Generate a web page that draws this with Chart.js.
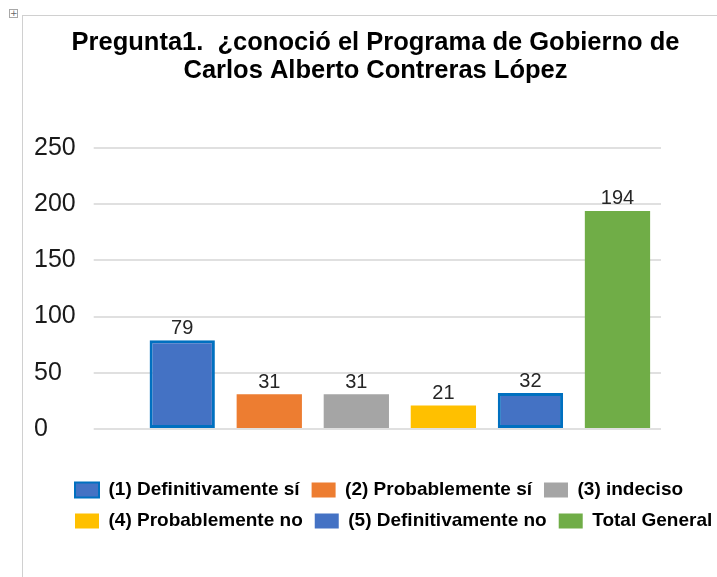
<!DOCTYPE html>
<html>
<head>
<meta charset="utf-8">
<script src="https://cdn.jsdelivr.net/npm/chart.js@4/dist/chart.umd.min.js"></script>
<style>
html,body{margin:0;padding:0;background:#fff;width:717px;height:577px;overflow:hidden;}
#frame{position:absolute;left:22px;top:15px;width:695px;height:562px;border-left:1px solid #d0d0d0;border-top:1px solid #d0d0d0;box-sizing:border-box;}
#handle{position:absolute;left:9px;top:9px;width:9px;height:9px;border:1px solid #a8a8a8;box-sizing:border-box;font:9px/7px "DejaVu Sans";color:#666;text-align:center;}
#wrap{position:absolute;left:34px;top:16px;width:683px;height:561px;}
</style>
</head>
<body>
<div id="frame"></div>
<div id="handle">+</div>
<div id="wrap"><canvas id="c"></canvas></div>
<script>
const titleLines = ['Pregunta1.  ¿conoció el Programa de Gobierno de', 'Carlos Alberto Contreras López'];
const categories = ['(1) Definitivamente sí', '(2) Probablemente sí', '(3) indeciso', '(4) Probablemente no', '(5) Definitivamente no', 'Total General'];
const values = [79, 31, 31, 21, 32, 194];
const yTickValues = [0, 50, 100, 150, 200, 250];
const fillColors = ['#4472C4', '#ED7D31', '#A5A5A5', '#FFC000', '#4472C4', '#70AD47'];
const borderColors = ['#0070C0', '#ED7D31', '#A5A5A5', '#FFC000', '#0070C0', '#70AD47'];
const barBorderWidths = [3, 0, 0, 0, 3, 0];
const legendBorderWidths = [2, 0, 0, 0, 0, 0];

const valueLabels = {
  id: 'valueLabels',
  afterDatasetsDraw(chart) {
    const ctx = chart.ctx;
    const meta = chart.getDatasetMeta(0);
    ctx.save();
    ctx.font = '20px "Liberation Sans", Arial, sans-serif';
    ctx.fillStyle = '#262626';
    ctx.textAlign = 'center';
    ctx.textBaseline = 'bottom';
    meta.data.forEach((bar, i) => {
      ctx.fillText(String(values[i]), bar.x, bar.y - 2);
    });
    ctx.restore();
  }
};

const legendShift = {
  id: 'legendShift',
  afterLayout(chart) {
    if (chart.legend) {
      chart.legend.left += 29;
      chart.legend.right += 29;
    }
  }
};

new Chart(document.getElementById('c'), {
  type: 'bar',
  data: {
    labels: categories,
    datasets: [{
      data: values,
      backgroundColor: fillColors,
      borderColor: borderColors,
      borderWidth: barBorderWidths,
      borderSkipped: false,
      barPercentage: 0.75,
      categoryPercentage: 1.0
    }]
  },
  options: {
    responsive: true,
    maintainAspectRatio: false,
    animation: false,
    layout: { padding: { left: 0, right: 0, top: 0, bottom: 36.5 } },
    plugins: {
      title: {
        display: true,
        text: titleLines,
        color: '#000',
        font: { family: '"Liberation Sans", Arial, sans-serif', size: 25.5, weight: 'bold', lineHeight: 1.098 },
        padding: { top: 13, bottom: 63 }
      },
      legend: {
        display: true,
        position: 'bottom',
        align: 'start',
        labels: {
          boxWidth: 24,
          boxHeight: 15,
          padding: 12,
          color: '#000',
          font: { family: '"Liberation Sans", Arial, sans-serif', size: 19, weight: 'bold' },
          generateLabels: () => categories.map((t, i) => ({
            text: t,
            fillStyle: fillColors[i],
            strokeStyle: borderColors[i],
            lineWidth: legendBorderWidths[i],
            fontColor: '#000',
            hidden: false,
            index: i,
            datasetIndex: 0
          }))
        }
      },
      tooltip: { enabled: false }
    },
    scales: {
      x: {
        display: true,
        grid: { display: false, drawTicks: false },
        border: { display: false },
        ticks: { display: false },
        afterFit(s) { s.height = 39.5; }
      },
      y: {
        min: 0,
        max: 250,
        afterBuildTicks(s) { s.ticks = yTickValues.map(v => ({ value: v })); },
        grid: { color: '#e0e0e0', lineWidth: 2, tickLength: 45, drawTicks: true },
        border: { display: false },
        ticks: {
          color: '#1a1a1a',
          padding: 9,
          crossAlign: 'far',
          font: { family: '"Liberation Sans", Arial, sans-serif', size: 25 }
        }
      },
      y2: {
        position: 'right',
        display: true,
        grid: { display: false, drawTicks: false },
        border: { display: false },
        ticks: { display: false },
        afterFit(s) { s.width = 56; }
      }
    }
  },
  plugins: [valueLabels, legendShift]
});
</script>
</body>
</html>
